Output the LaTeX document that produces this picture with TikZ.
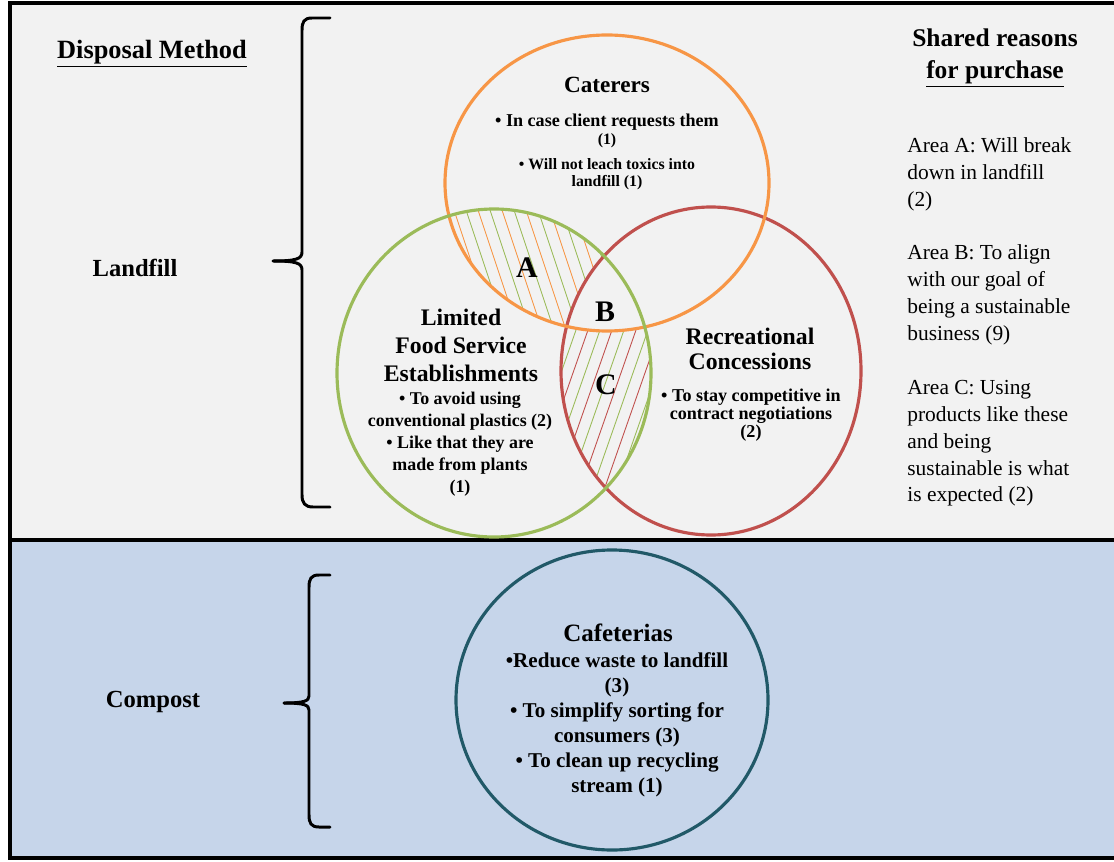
\documentclass[tikz,border=0pt]{standalone}
\usepackage{fontspec}
\setmainfont{Liberation Serif}
\definecolor{panelgray}{HTML}{F2F2F2}
\definecolor{panelblue}{HTML}{C6D5EA}
\definecolor{catorange}{HTML}{F79646}
\definecolor{lfsgreen}{HTML}{9BBB59}
\definecolor{recred}{HTML}{C0504D}
\definecolor{cafteal}{HTML}{215968}
\newcommand{\fsz}[2]{\fontsize{#1}{#2}\selectfont}

\begin{document}
\begin{tikzpicture}[x=0.02cm, y=-0.02cm,
    ring/.style={line width=1.8pt},
    hatch/.style={line width=0.5pt},
    bracket/.style={line width=1.7pt, line cap=round},
    border/.style={line width=2.5pt},
    title/.style={font=\bfseries\fsz{13.5}{15.9}, align=center, inner sep=0pt},
    bodytext/.style={font=\bfseries\fsz{10.2}{12.5}, align=center, inner sep=0pt},
    area/.style={font=\bfseries\fsz{17}{17}, inner sep=0pt}]
  \useasboundingbox (0,0) rectangle (1114,861);

  % Panneaux
  \fill[panelgray] (10,3) rectangle (1120,540);
  \fill[panelblue] (10,540) rectangle (1120,858);
  \draw[border] (1120,3) -- (10,3) -- (10,858) -- (1120,858);
  \draw[border] (10,540) -- (1120,540);

  % Hachures zone A
  \begin{scope}
    \clip (607,183) ellipse [x radius=162, y radius=148];
    \clip (494,373) ellipse [x radius=157, y radius=164];
    \begin{scope}[even odd rule]
      \clip (0,0) rectangle (1114,861) (711,371) ellipse [x radius=150, y radius=164];
      \foreach \k in {0,...,14} {
        \draw[hatch, lfsgreen] ({360+24*\k},180) -- ++(100,300);
        \draw[hatch, catorange] ({372+24*\k},180) -- ++(100,300);
      }
    \end{scope}
  \end{scope}

  % Hachures zone C
  \begin{scope}
    \clip (494,373) ellipse [x radius=157, y radius=164];
    \clip (711,371) ellipse [x radius=150, y radius=164];
    \begin{scope}[even odd rule]
      \clip (0,0) rectangle (1114,861) (607,183) ellipse [x radius=162, y radius=148];
      \foreach \k in {0,...,14} {
        \draw[hatch, lfsgreen] ({580+24*\k},250) -- ++(-105,300);
        \draw[hatch, recred] ({592+24*\k},250) -- ++(-105,300);
      }
    \end{scope}
  \end{scope}

  % Cercles
  \draw[ring, recred] (711,371) ellipse [x radius=150, y radius=164];
  \draw[ring, catorange] (607,183) ellipse [x radius=162, y radius=148];
  \draw[ring, lfsgreen] (494,373) ellipse [x radius=157, y radius=164];
  \draw[ring, cafteal] (612,700) ellipse [x radius=156, y radius=150];

  % Accolades
  \draw[bracket] (330,18) -- (312,18) .. controls (304,18) and (302,22) .. (302,30)
    -- (302,252) .. controls (302,259) and (296,261) .. (273,261);
  \draw[bracket] (273,261) .. controls (296,261) and (302,263) .. (302,270)
    -- (302,495) .. controls (302,503) and (305,507) .. (313,507) -- (330,507);
  \draw[bracket] (330,575) -- (319,575) .. controls (311,575) and (309,579) .. (309,587)
    -- (309,696) .. controls (309,701) and (304,703) .. (284,703);
  \draw[bracket] (284,703) .. controls (304,703) and (309,705) .. (309,710)
    -- (309,815) .. controls (309,823) and (311,827) .. (319,827) -- (330,827);

  % Textes de gauche
  \node[font=\bfseries\fsz{15}{18}, inner sep=0pt] (method) at (152,54) {\underline{Disposal Method}};
  \node[font=\bfseries\fsz{14}{17}, inner sep=0pt] (landfill) at (135,268) {Landfill};
  \node[font=\bfseries\fsz{14}{17}, inner sep=0pt] (compost) at (153,702) {Compost};

  % Traiteurs
  \node[title, font=\bfseries\fsz{13.2}{15}] (caterers) at (607,85) {Caterers};
  \node[bodytext, font=\bfseries\fsz{9}{9.8}] (caterersbody) at (607,152)
    {{\fsz{10.3}{9.8}\textbullet\ In case client requests them}\\ (1)\\[4.4pt]
     \textbullet\ Will not leach toxics into\\ landfill (1)};

  % Restauration limitee
  \node[title] (limited) at (461,345) {Limited\\ Food Service\\ Establishments};
  \node[bodytext] (limitedbody) at (460,444)
    {\textbullet\ To avoid using\\ conventional plastics (2)\\
     \textbullet\ Like that they are\\ made from plants\\ (1)};

  % Concessions
  \node[title, font=\bfseries\fsz{13.5}{14.2}] (recreational) at (750,349) {Recreational\\ Concessions};
  \node[bodytext, font=\bfseries\fsz{10.3}{10.3}] (recreationalbody) at (751,415)
    {\textbullet\ To stay competitive in\\ contract negotiations\\ (2)};

  % Cafeterias
  \node[title, font=\bfseries\fsz{14.2}{16}] (cafeterias) at (618,633) {Cafeterias};
  \node[bodytext, font=\bfseries\fsz{12}{14.2}] (cafeteriasbody) at (617,725)
    {\textbullet Reduce waste to landfill\\ (3)\\
     \textbullet\ To simplify sorting for\\ consumers (3)\\
     \textbullet\ To clean up recycling\\ stream (1)};

  % Zones
  \node[area] (areaA) at (527,268) {A};
  \node[area] (areaB) at (605,312) {B};
  \node[area] (areaC) at (606,385) {C};

  % Raisons communes
  \node[font=\bfseries\fsz{14.5}{18}, align=center, inner sep=0pt] (shared) at (995,58)
    {Shared reasons\\ \underline{for purchase}};
  \node[font=\fsz{12.2}{15.3}, align=left, inner sep=0pt, anchor=west] (reasons) at (907,322)
    {Area A: Will break\\ down in landfill\\ (2)\\[15.3pt]
     Area B: To align\\ with our goal of\\ being a sustainable\\ business (9)\\[15.3pt]
     Area C: Using\\ products like these\\ and being\\ sustainable is what\\ is expected (2)};
\end{tikzpicture}
\end{document}
